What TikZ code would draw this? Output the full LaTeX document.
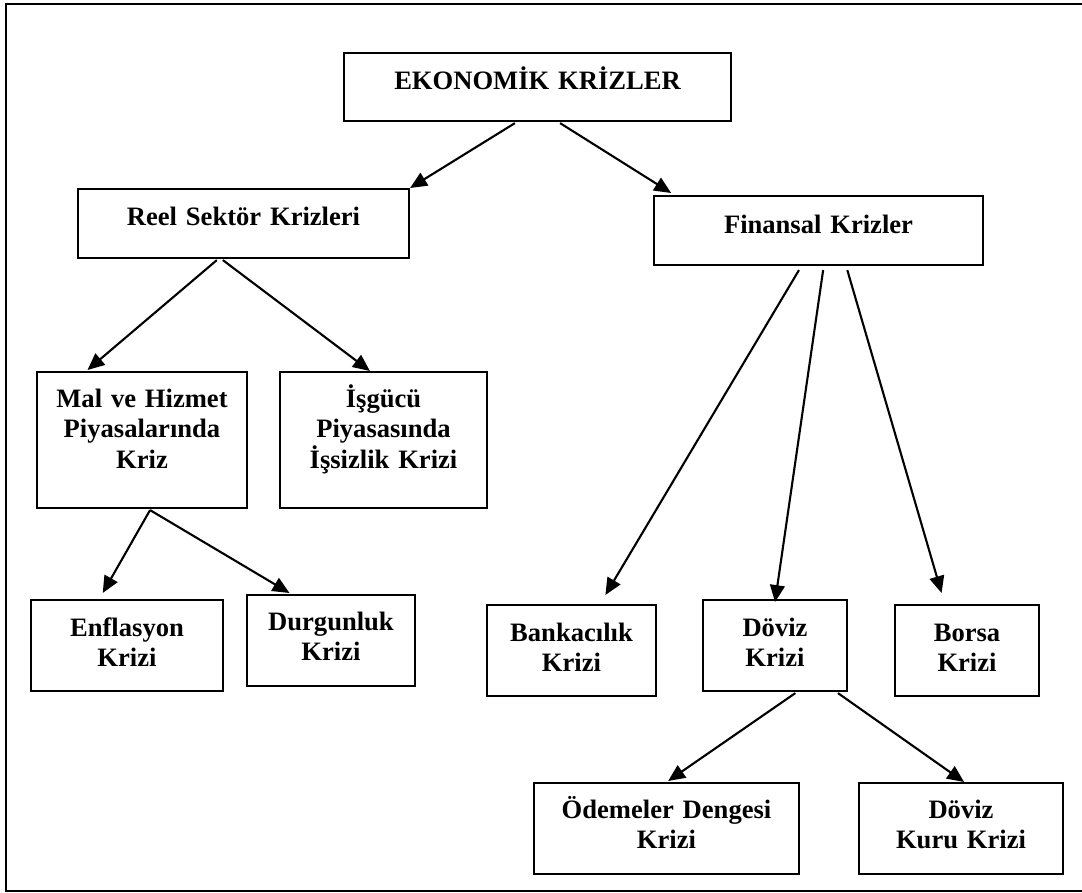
\documentclass[tikz,border=0pt]{standalone}
\usepackage{fontspec}
\setmainfont{Liberation Serif}
\usepackage{tikz}
\usetikzlibrary{calc,arrows.meta}
\newlength\px
\setlength\px{0.025cm}

\begin{document}
\begin{tikzpicture}[x=0.025cm, y=-0.025cm, >={Triangle[length=12pt,width=10.5pt]},
    every node/.style={font=\bfseries\fontsize{18.9}{21.8}\selectfont},
    kutu/.style={draw, line width=1.5pt, anchor=north, align=center, inner xsep=0pt, inner ysep=0pt},
    ok/.style={->, line width=1.5pt}]
    \useasboundingbox (0,0) rectangle (1082,892);
    % outer frame
    \draw[line width=1.5pt] (1082,4) -- (6,4) -- (6,891) -- (1082,891);

    % top level
    \node[kutu, text width=387\px, text height=36\px, text depth=32\px] (ek) at (537.5,52) {EKONOMİK KRİZLER};

    % second level
    \node[kutu, text width=331\px, text height=36\px, text depth=33\px] (reel) at (243.5,188) {Reel Sektör Krizleri};
    \node[kutu, text width=329\px, text height=37\px, text depth=32\px] (fin) at (818.5,195) {Finansal Krizler};

    % real sector branch
    \node[kutu, text width=210\px, text height=35\px, text depth=101\px] (mal) at (142,371) {Mal ve Hizmet\\Piyasalarında\\Kriz};
    \node[kutu, text width=207\px, text height=35\px, text depth=101\px] (isgucu) at (383.5,371) {İşgücü\\Piyasasında\\İşsizlik Krizi};
    \node[kutu, text width=192\px, text height=36\px, text depth=55\px] (enf) at (127,599) {Enflasyon\\Krizi};
    \node[kutu, text width=168\px, text height=35\px, text depth=56\px] (durg) at (331,594) {Durgunluk\\Krizi};

    % financial branch
    \node[kutu, text width=169\px, text height=36\px, text depth=55\px] (bank) at (571.5,604) {Bankacılık\\Krizi};
    \node[kutu, text width=144\px, text height=36\px, text depth=55\px] (doviz) at (775,599) {Döviz\\Krizi};
    \node[kutu, text width=144\px, text height=36\px, text depth=55\px] (borsa) at (967,604) {Borsa\\Krizi};
    \node[kutu, text width=265\px, text height=35\px, text depth=56\px] (odeme) at (666.5,782) {Ödemeler Dengesi\\Krizi};
    \node[kutu, text width=204\px, text height=35\px, text depth=56\px] (kur) at (961,782) {Döviz\\Kuru Krizi};

    % arrows
    \draw[ok] ($(ek.south west)!.442!(ek.south east)+(0,1)$) -- (reel.north east);
    \draw[ok] ($(ek.south west)!.558!(ek.south east)+(0,1)$) -- ($(fin.north west)!.055!(fin.north east)+(0,-2)$);
    \draw[ok] ($(reel.south west)!.42!(reel.south east)+(0,1)$) -- ($(mal.north west)!.243!(mal.north east)+(0,-1)$);
    \draw[ok] ($(reel.south west)!.438!(reel.south east)+(0,1)$) -- ($(isgucu.north west)!.435!(isgucu.north east)$);
    \draw[ok] ($(mal.south west)!.538!(mal.south east)+(0,1)$) -- ($(enf.north west)!.375!(enf.north east)+(0,-6)$);
    \draw[ok] ($(mal.south west)!.538!(mal.south east)+(0,1)$) -- ($(durg.north west)!.256!(durg.north east)+(0,-1)$);
    \draw[ok] ($(fin.south west)!.441!(fin.south east)+(0,4)$) -- ($(bank.north west)!.698!(bank.north east)+(0,-9)$);
    \draw[ok] ($(fin.south west)!.514!(fin.south east)+(0,4)$) -- ($(doviz.north)+(0,3)$);
    \draw[ok] ($(fin.south west)!.587!(fin.south east)+(0,4)$) -- ($(borsa.north west)!.326!(borsa.north east)+(0,-11)$);
    \draw[ok] ($(doviz.south west)!.639!(doviz.south east)+(0,1)$) -- ($(odeme.north west)!.506!(odeme.north east)+(0,-1)$);
    \draw[ok] ($(doviz.south west)!.931!(doviz.south east)+(0,1)$) -- ($(kur.north west)!.515!(kur.north east)$);
\end{tikzpicture}
\end{document}
